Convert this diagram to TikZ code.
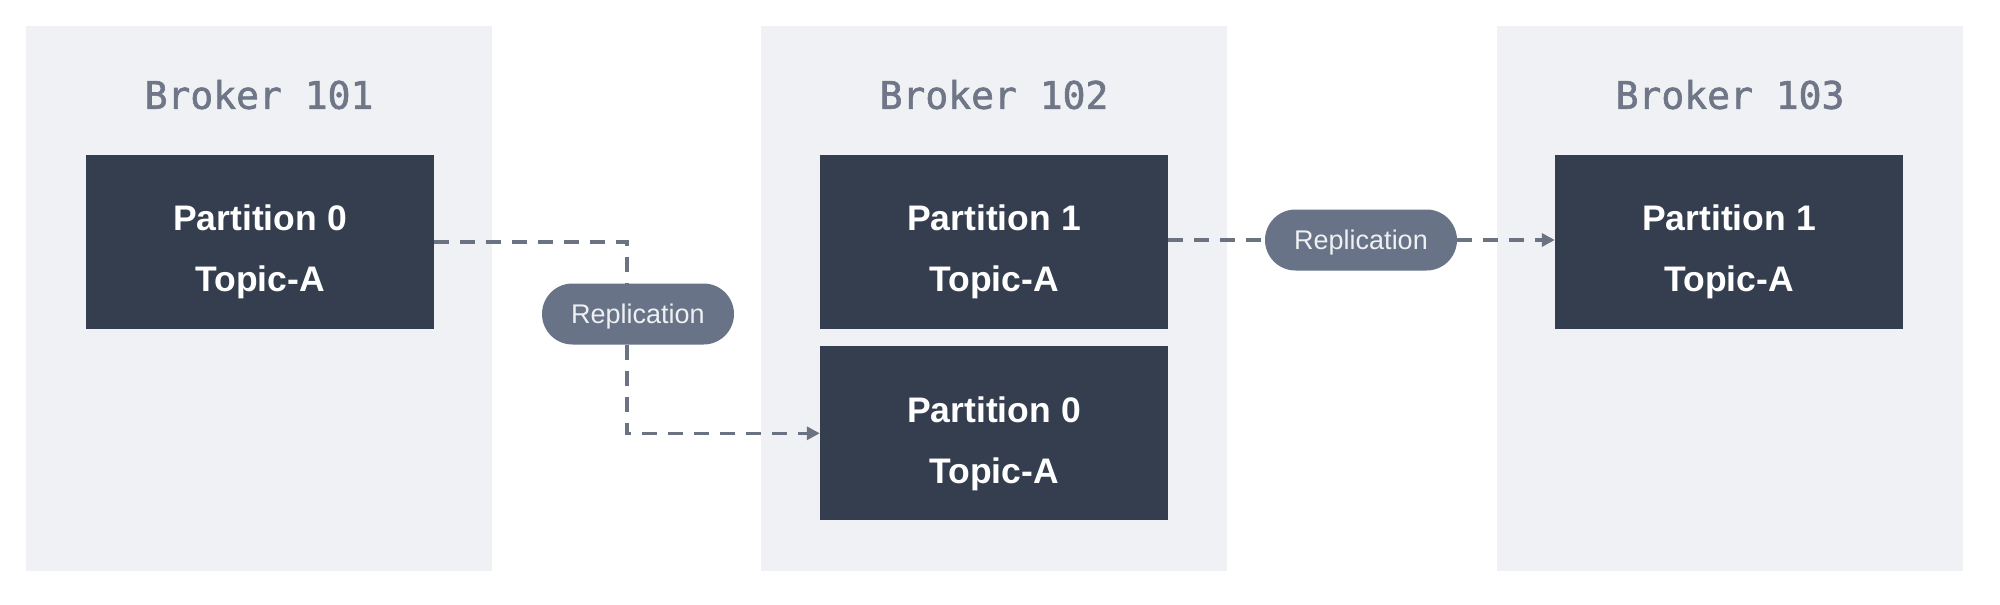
\documentclass[tikz,border=0pt]{standalone}
\usepackage{fontspec}
\setmainfont{Liberation Sans}
\newfontfamily\monof[FakeBold=1.6]{DejaVu Sans Mono}
\usetikzlibrary{arrows.meta,calc}
\definecolor{brokerbg}{HTML}{F0F1F4}
\definecolor{partbg}{HTML}{343E4E}
\definecolor{pillbg}{HTML}{687387}
\definecolor{linecol}{HTML}{6B7383}
\definecolor{titlecol}{HTML}{6E7687}
\definecolor{pilltext}{HTML}{EEF0F3}
\begin{document}
\begin{tikzpicture}[x=1pt,y=-1pt,
  broker/.style={rectangle,fill=brokerbg,draw=none,minimum width=466pt,minimum height=545pt,inner sep=0pt},
  brokertitle/.style={anchor=base,text=titlecol,font=\monof\fontsize{38}{40}\selectfont,inner sep=0pt},
  partbox/.style={rectangle,fill=partbg,draw=none,minimum width=348pt,minimum height=174pt,inner sep=0pt},
  parttext/.style={anchor=base,text=white,font=\fontsize{35.5}{40}\selectfont\bfseries,inner sep=0pt},
  pill/.style={rectangle,rounded corners=30.5pt,fill=pillbg,draw=none,minimum width=192pt,minimum height=61pt,inner sep=0pt,text=pilltext,font=\fontsize{27}{30}\selectfont,text height=19.5pt,text depth=0pt},
  conn/.style={draw=linecol,line width=3.5pt,dash pattern=on 15pt off 11pt},
  tip/.style={-{Triangle[length=13pt,width=13pt]}}
]
\useasboundingbox (0,0) rectangle (2000,605);
\fill[white] (0,0) rectangle (2000,605);

% brokers
\node[broker] (b1) at (259,298.5) {};
\node[broker] (b2) at (994,298.5) {};
\node[broker] (b3) at (1730,298.5) {};

\node[brokertitle] (t1) at ($(b1.north)+(0,83)$) {Broker 101};
\node[brokertitle] (t2) at ($(b2.north)+(0,83)$) {Broker 102};
\node[brokertitle] (t3) at ($(b3.north)+(0,83)$) {Broker 103};

% partitions
\node[partbox] (p1a) at ($(b1.north)+(1,216)$) {};
\node[partbox] (p2a) at ($(b2.north)+(0,216)$) {};
\node[partbox] (p2b) at ($(b2.north)+(0,407.5)$) {};
\node[partbox] (p3a) at ($(b3.north)+(-1,216)$) {};

\node[parttext] (p1a1) at ($(p1a.north)+(0,76)$) {Partition 0};
\node[parttext] (p1a2) at ($(p1a.north)+(0,137)$) {Topic-A};
\node[parttext] (p2a1) at ($(p2a.north)+(0,76)$) {Partition 1};
\node[parttext] (p2a2) at ($(p2a.north)+(0,137)$) {Topic-A};
\node[parttext] (p2b1) at ($(p2b.north)+(0,76)$) {Partition 0};
\node[parttext] (p2b2) at ($(p2b.north)+(0,137)$) {Topic-A};
\node[parttext] (p3a1) at ($(p3a.north)+(0,76)$) {Partition 1};
\node[parttext] (p3a2) at ($(p3a.north)+(0,137)$) {Topic-A};

% replication pills
\node[pill] (rep1) at (638,314) {Replication};
\node[pill] (rep2) at (1361,240) {Replication};

% connectors
\draw[conn] (p1a.east) -| ([xshift=-11pt]rep1.north);
\draw[conn,tip] ([xshift=-11pt]rep1.south) |- (p2b.west);
\draw[conn] (rep2.west -| p2a.east) -- (rep2.west);
\draw[conn,tip] (rep2.east) -- (rep2.east -| p3a.west);
\end{tikzpicture}
\end{document}
